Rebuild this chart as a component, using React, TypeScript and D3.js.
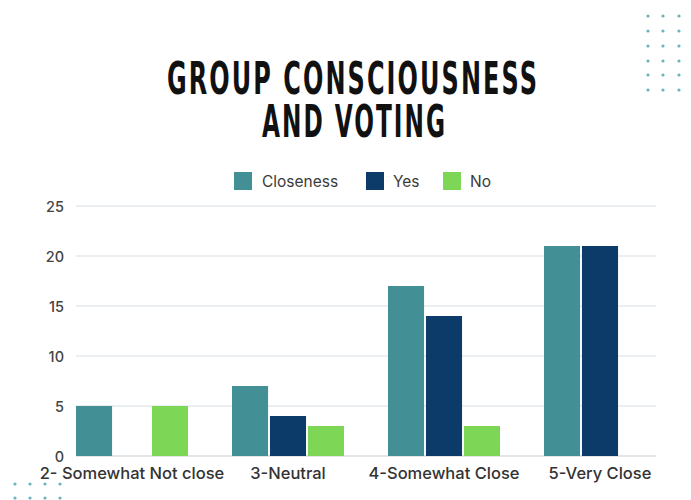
import React from "react";
import * as d3 from "d3";

const categories = ["2- Somewhat Not close", "3-Neutral", "4-Somewhat Close", "5-Very Close"];
const seriesNames = ["Closeness", "Yes", "No"];
const closeness = [5, 7, 17, 21];
const yes = [0, 4, 14, 21];
const no = [5, 3, 3, 0];
const yTicks = [0, 5, 10, 15, 20, 25];
const colors = ["#438f96", "#0c3a69", "#7dd655"];

const W = 691;
const H = 500;
const M = { left: 76, right: 35, top: 206, bottom: 44 };

export default function App() {
  const seriesVals = [closeness, yes, no];
  const x0 = d3
    .scaleBand<string>()
    .domain(categories)
    .range([M.left, W - M.right])
    .paddingInner(0.282)
    .paddingOuter(0);
  const x1 = d3
    .scaleBand<string>()
    .domain(seriesNames)
    .range([0, x0.bandwidth()])
    .paddingInner(0.05);
  const y = d3.scaleLinear().domain([0, 25]).range([H - M.bottom, M.top]);

  const font = "Inter, 'Open Sans', sans-serif";

  const dotsTR: [number, number][] = [];
  [648, 663, 679].forEach((dx) =>
    [16, 31, 46, 61, 75, 90].forEach((dy) => dotsTR.push([dx, dy]))
  );
  const dotsBL: [number, number][] = [];
  [15, 30, 45, 60].forEach((dx) => [484, 498].forEach((dy) => dotsBL.push([dx, dy])));

  const legendItems = [
    { name: "Closeness", x: 234, tx: 262 },
    { name: "Yes", x: 366, tx: 393 },
    { name: "No", x: 443, tx: 470 },
  ];

  return (
    <svg
      width={W}
      height={H}
      style={{ position: "absolute", left: 0, top: 0, display: "block", background: "#fff" }}
    >
      <rect width={W} height={H} fill="#fff" />
      {dotsTR.map(([cx, cy], i) => (
        <circle key={"tr" + i} cx={cx} cy={cy} r={1.6} fill="#6cb3b8" />
      ))}
      {dotsBL.map(([cx, cy], i) => (
        <circle key={"bl" + i} cx={cx} cy={cy} r={1.6} fill="#6cb3b8" />
      ))}
      <g
        fontFamily="'DejaVu Sans Condensed', 'DejaVu Sans', sans-serif"
        fontWeight="bold"
        fill="#111"
        letterSpacing={3.5}
      >
        <text x={167} y={94} fontSize={45} textLength={372} lengthAdjust="spacingAndGlyphs">
          GROUP CONSCIOUSNESS
        </text>
        <text x={262} y={137} fontSize={45} textLength={185} lengthAdjust="spacingAndGlyphs">
          AND VOTING
        </text>
      </g>
      <g fontFamily={font} fontSize={15.5} fill="#3a3a3a">
        {legendItems.map((d, i) => (
          <g key={d.name}>
            <rect x={d.x} y={172} width={18} height={18} fill={colors[i]} />
            <text x={d.tx} y={181} dominantBaseline="central">
              {d.name}
            </text>
          </g>
        ))}
      </g>
      <g>
        {yTicks.map((t) => (
          <line
            key={t}
            x1={M.left}
            x2={W - M.right}
            y1={y(t)}
            y2={y(t)}
            stroke={t === 0 ? "#d8dde2" : "#e6eaee"}
            strokeWidth={1.5}
          />
        ))}
      </g>
      <g fontFamily={font} fontSize={14.5} fontWeight={500} fill="#444" textAnchor="end">
        {yTicks.map((t) => (
          <text key={t} x={64} y={y(t)} dominantBaseline="central">
            {t}
          </text>
        ))}
      </g>
      <g>
        {categories.map((c, ci) => (
          <g key={c} transform={`translate(${x0(c)},0)`}>
            {seriesNames.map((s, si) => {
              const v = seriesVals[si][ci];
              if (!v) return null;
              return (
                <rect
                  key={s}
                  x={x1(s)}
                  y={y(v)}
                  width={x1.bandwidth()}
                  height={y(0) - y(v)}
                  fill={colors[si]}
                />
              );
            })}
          </g>
        ))}
      </g>
      <g fontFamily={font} fontSize={16.5} fontWeight={500} fill="#333" textAnchor="middle">
        {categories.map((c) => (
          <text key={c} x={(x0(c) as number) + x0.bandwidth() / 2} y={473} dominantBaseline="central">
            {c}
          </text>
        ))}
      </g>
    </svg>
  );
}
